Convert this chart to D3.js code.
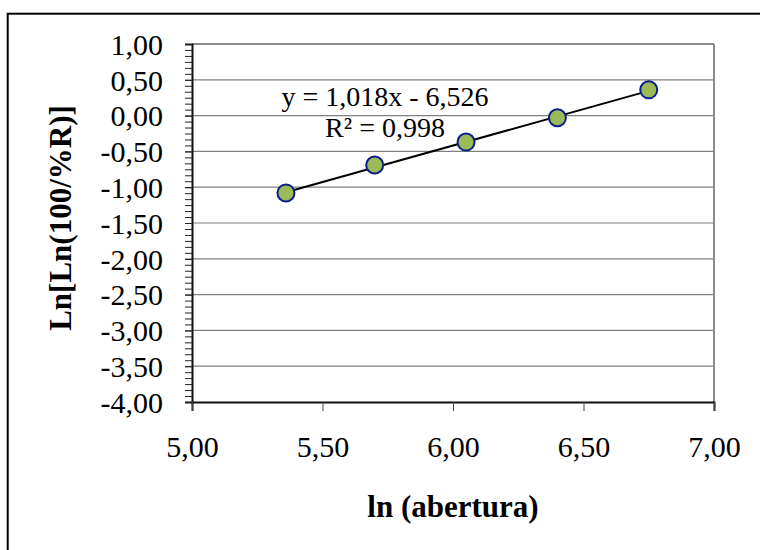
<!DOCTYPE html>
<html>
<head>
<meta charset="utf-8">
<script src="https://cdn.jsdelivr.net/npm/d3@7"></script>
<style>
  html, body { margin: 0; padding: 0; background: #fff; }
  svg { display: block; font-family: "Liberation Serif", "Times New Roman", serif; }
</style>
</head>
<body>
<svg id="chart" width="760" height="550"></svg>
<script>
// Sieve data: ln of aperture vs Ln[Ln(100/%R)]
const lnAbertura = [5.36, 5.70, 6.05, 6.40, 6.75];
const lnLnR      = [-1.08, -0.69, -0.37, -0.03, 0.36];

// Linear trend line coefficients and its labels
const trendSlope = [1.018];
const trendIntercept = [-6.526];
const trendLabels = ["y = 1,018x - 6,526", "R² = 0,998"];

// Axis ticks
const xTicks = [5.0, 5.5, 6.0, 6.5, 7.0];
const yTicks = [1.0, 0.5, 0.0, -0.5, -1.0, -1.5, -2.0, -2.5, -3.0, -3.5, -4.0];

const xTitle = "ln (abertura)";
const yTitle = "Ln[Ln(100/%R)]";

const svg = d3.select("#chart");
const plot = { left: 192, right: 714, top: 44, bottom: 402 };

const x = d3.scaleLinear().domain([5, 7]).range([plot.left, plot.right]);
const y = d3.scaleLinear().domain([-4, 1]).range([plot.bottom, plot.top]);

const locale = d3.formatLocale({ decimal: ",", thousands: ".", grouping: [3], currency: ["", ""], minus: "-" });
const fmt = locale.format(".2f");

// Outer chart frame
svg.append("rect")
  .attr("x", 7.7).attr("y", 13.7)
  .attr("width", 820).attr("height", 620)
  .attr("fill", "none").attr("stroke", "#000").attr("stroke-width", 2);

// Horizontal gridlines
svg.append("g")
  .selectAll("line")
  .data(yTicks.filter(v => v > -4 && v < 1))
  .join("line")
  .attr("x1", plot.left).attr("x2", plot.right)
  .attr("y1", d => y(d)).attr("y2", d => y(d))
  .attr("stroke", "#808080").attr("stroke-width", 1.2);

// Plot area top and right edges
svg.append("line")
  .attr("x1", plot.left).attr("x2", plot.right)
  .attr("y1", y(1)).attr("y2", y(1))
  .attr("stroke", "#8c8c8c").attr("stroke-width", 2);
svg.append("line")
  .attr("x1", plot.right).attr("x2", plot.right)
  .attr("y1", y(1)).attr("y2", plot.bottom)
  .attr("stroke", "#8c8c8c").attr("stroke-width", 2);

// Y axis: minor ticks, then labelled major ticks
const yMinor = d3.range(0, 61).map(i => -4 + i * 5 / 60);
svg.append("g")
  .attr("transform", `translate(${plot.left},0)`)
  .call(d3.axisLeft(y).tickValues(yMinor).tickSize(7).tickFormat(""))
  .call(g => g.select(".domain").remove())
  .call(g => g.selectAll(".tick line").attr("stroke", "#222").attr("stroke-width", 1));

const yAxis = svg.append("g")
  .attr("transform", `translate(${plot.left},0)`)
  .call(d3.axisLeft(y).tickValues(yTicks).tickSize(7).tickPadding(22).tickFormat(fmt));
yAxis.select(".domain").attr("stroke", "#111").attr("stroke-width", 2);
yAxis.selectAll(".tick line").attr("stroke", "#222").attr("stroke-width", 1);
yAxis.selectAll(".tick text")
  .attr("fill", "#000")
  .style("font-family", "'Liberation Serif', serif")
  .style("font-size", "30px")
  .attr("dy", "0.34em");

// X axis
const xAxis = svg.append("g")
  .attr("transform", `translate(0,${plot.bottom})`)
  .call(d3.axisBottom(x).tickValues(xTicks).tickSize(9).tickPadding(25).tickFormat(fmt));
xAxis.select(".domain").attr("stroke", "#111").attr("stroke-width", 2);
xAxis.selectAll(".tick line").attr("stroke", "#444").attr("stroke-width", 1);
xAxis.selectAll(".tick text")
  .attr("fill", "#000")
  .style("font-family", "'Liberation Serif', serif")
  .style("font-size", "30px")
  .attr("dy", "0.71em");

// Axis titles
svg.append("text")
  .attr("x", (plot.left + plot.right) / 2)
  .attr("y", 517)
  .attr("text-anchor", "middle")
  .style("font-size", "31px")
  .style("font-weight", "bold")
  .text(xTitle);

svg.append("text")
  .attr("transform", "translate(71,218) rotate(-90)")
  .attr("text-anchor", "middle")
  .style("font-size", "31px")
  .style("font-weight", "bold")
  .text(yTitle);

// Trend line across the data range
const xExt = d3.extent(lnAbertura);
const line = d3.line().x(d => x(d[0])).y(d => y(d[1]));
svg.append("path")
  .datum(xExt.map(v => [v, trendSlope[0] * v + trendIntercept[0]]))
  .attr("d", line)
  .attr("fill", "none")
  .attr("stroke", "#000")
  .attr("stroke-width", 2);

// Data markers
svg.append("g")
  .selectAll("circle")
  .data(lnAbertura.map((v, i) => [v, lnLnR[i]]))
  .join("circle")
  .attr("cx", d => x(d[0]))
  .attr("cy", d => y(d[1]))
  .attr("r", 8.5)
  .attr("fill", "#9bbb59")
  .attr("stroke", "#0c1d8c")
  .attr("stroke-width", 2);

// Trend line equation and R²
const eq = svg.append("text")
  .attr("text-anchor", "middle")
  .style("font-size", "28px");
eq.selectAll("tspan")
  .data(trendLabels)
  .join("tspan")
  .attr("x", 385)
  .attr("y", (d, i) => 106 + i * 31)
  .text(d => d);
</script>
</body>
</html>
